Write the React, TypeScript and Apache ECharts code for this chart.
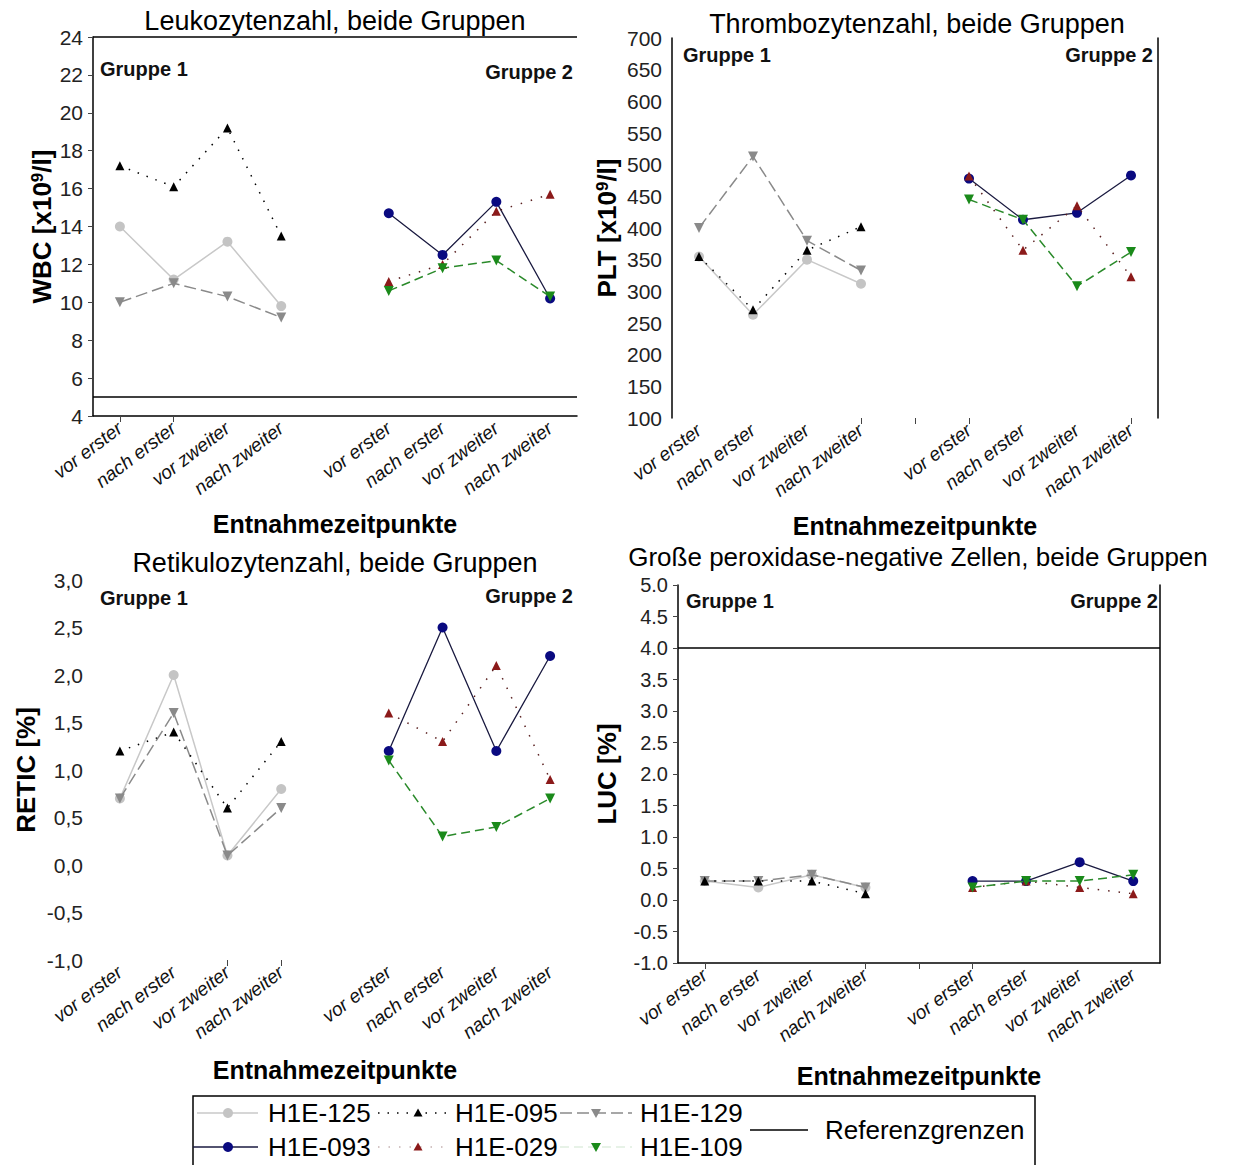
import React, { useEffect, useRef } from "react";
import * as echarts from "echarts";

const FONT = "'Liberation Sans', Arial, sans-serif";

// ---------- categories & labels ----------
const timepoints = ["vor erster", "nach erster", "vor zweiter", "nach zweiter"];
const groupLabels = ["Gruppe 1", "Gruppe 2"];
const xAxisName = "Entnahmezeitpunkte";
const patientsG1 = ["H1E-125", "H1E-095", "H1E-129"];
const patientsG2 = ["H1E-093", "H1E-029", "H1E-109"];
const refLabel = "Referenzgrenzen";

// ---------- tick labels ----------
const wbcTicks = ["4", "6", "8", "10", "12", "14", "16", "18", "20", "22", "24"];
const pltTicks = ["100", "150", "200", "250", "300", "350", "400", "450", "500", "550", "600", "650", "700"];
const reticTicks = ["-1,0", "-0,5", "0,0", "0,5", "1,0", "1,5", "2,0", "2,5", "3,0"];
const lucTicks = ["-1.0", "-0.5", "0.0", "0.5", "1.0", "1.5", "2.0", "2.5", "3.0", "3.5", "4.0", "4.5", "5.0"];

// ---------- WBC [x10^9/l] ----------
const wbc125 = [14.0, 11.2, 13.2, 9.8];
const wbc095 = [17.2, 16.1, 19.2, 13.5];
const wbc129 = [10.0, 11.0, 10.3, 9.2];
const wbc093 = [14.7, 12.5, 15.3, 10.2];
const wbc029 = [11.1, 12.0, 14.8, 15.7];
const wbc109 = [10.6, 11.8, 12.2, 10.3];
const wbcRefs = [5, 24];

// ---------- PLT [x10^9/l] ----------
const plt125 = [355, 263, 350, 312];
const plt095 = [355, 271, 365, 402];
const plt129 = [400, 513, 380, 333];
const plt093 = [478, 413, 424, 483];
const plt029 = [482, 365, 435, 323];
const plt109 = [445, 413, 308, 362];

// ---------- RETIC [%] ----------
const retic125 = [0.7, 2.0, 0.1, 0.8];
const retic095 = [1.2, 1.4, 0.6, 1.3];
const retic129 = [0.7, 1.6, 0.1, 0.6];
const retic093 = [1.2, 2.5, 1.2, 2.2];
const retic029 = [1.6, 1.3, 2.1, 0.9];
const retic109 = [1.1, 0.3, 0.4, 0.7];

// ---------- LUC [%] ----------
const luc125 = [0.3, 0.2, 0.4, 0.2];
const luc095 = [0.3, 0.3, 0.3, 0.1];
const luc129 = [0.3, 0.3, 0.4, 0.2];
const luc093 = [0.3, 0.3, 0.6, 0.3];
const luc029 = [0.2, 0.3, 0.2, 0.1];
const luc109 = [0.2, 0.3, 0.3, 0.4];
const lucRefs = [4];

// ---------- styles ----------
const styles: Record<string, any> = {
  "H1E-125": { color: "#c4c4c4", line: "#c8c8c8", type: "solid", symbol: "circle", rot: 0, size: 10, width: 1.5 },
  "H1E-095": { color: "#000000", line: "#000000", type: [1.5, 8], symbol: "triangle", rot: 0, size: 9, width: 1.5 },
  "H1E-129": { color: "#8a8a8a", line: "#8a8a8a", type: [12, 5], symbol: "triangle", rot: 180, size: 10, width: 1.5 },
  "H1E-093": { color: "#0a0a80", line: "#1a1a40", type: "solid", symbol: "circle", rot: 0, size: 10, width: 1.3 },
  "H1E-029": { color: "#8b1a1a", line: "#5a2020", type: [1.5, 9], symbol: "triangle", rot: 0, size: 9, width: 1.5 },
  "H1E-109": { color: "#1a8a1a", line: "#2a8a2a", type: [9, 5], symbol: "triangle", rot: 180, size: 10, width: 1.5 },
};

const categories = [
  ...timepoints.map((t) => "1|" + t),
  "gap",
  ...timepoints.map((t) => "2|" + t),
];

const panels = [
  {
    title: "Leukozytenzahl, beide Gruppen", titleX: 335, titleY: 21, titleSize: 27,
    grid: [93, 37, 484, 379], min: 4, max: 24, interval: 2, ticks: wbcTicks, tickSize: 21,
    yName: "{b|WBC [x10}{s|9}{b|/l]}", yNameGap: 38, yLine: true, yTick: true,
    xLine: true, xTicks: [0, 1], rightLine: false, refs: wbcRefs, xNameGap: 95,
    g1: [100, 69], g2: [573, 72],
    data: { "H1E-125": wbc125, "H1E-095": wbc095, "H1E-129": wbc129, "H1E-093": wbc093, "H1E-029": wbc029, "H1E-109": wbc109 },
  },
  {
    title: "Thrombozytenzahl, beide Gruppen", titleX: 917, titleY: 24, titleSize: 27,
    grid: [672, 38, 486, 380], min: 100, max: 700, interval: 50, ticks: pltTicks, tickSize: 21,
    yName: "{b|PLT [x10}{s|9}{b|/l]}", yNameGap: 52, yLine: true, yTick: false,
    xLine: false, xTicks: [3, 4, 5, 8], rightLine: true, refs: [], xNameGap: 95,
    g1: [683, 55], g2: [1153, 55],
    data: { "H1E-125": plt125, "H1E-095": plt095, "H1E-129": plt129, "H1E-093": plt093, "H1E-029": plt029, "H1E-109": plt109 },
  },
  {
    title: "Retikulozytenzahl, beide Gruppen", titleX: 335, titleY: 563, titleSize: 27,
    grid: [93, 580, 484, 380], min: -1, max: 3, interval: 0.5, ticks: reticTicks, tickSize: 21,
    yName: "RETIC [%]", yNameGap: 54, yLine: false, yTick: false,
    xLine: false, xTicks: [2, 3], rightLine: false, refs: [], xNameGap: 97,
    g1: [100, 598], g2: [573, 596],
    data: { "H1E-125": retic125, "H1E-095": retic095, "H1E-129": retic129, "H1E-093": retic093, "H1E-029": retic029, "H1E-109": retic109 },
  },
  {
    title: "Große peroxidase-negative Zellen, beide Gruppen", titleX: 918, titleY: 557, titleSize: 26,
    grid: [678, 585, 482, 378], min: -1, max: 5, interval: 0.5, ticks: lucTicks, tickSize: 20,
    yName: "LUC [%]", yNameGap: 58, yLine: true, yTick: true,
    xLine: true, xTicks: [0, 3, 4, 5], rightLine: true, refs: lucRefs, xNameGap: 100,
    g1: [686, 601], g2: [1158, 601],
    data: { "H1E-125": luc125, "H1E-095": luc095, "H1E-129": luc129, "H1E-093": luc093, "H1E-029": luc029, "H1E-109": luc109 },
  },
];

const seriesOrder = ["H1E-125", "H1E-129", "H1E-095", "H1E-093", "H1E-029", "H1E-109"];

function spread(vals: number[], group: number) {
  const nulls = [null, null, null, null, null];
  return group === 0 ? [...vals, ...nulls] : [...nulls, ...vals];
}

function buildOption() {
  const grid: any[] = [];
  const xAxis: any[] = [];
  const yAxis: any[] = [];
  const series: any[] = [];
  const graphic: any[] = [];

  panels.forEach((p, pi) => {
    grid.push({ left: p.grid[0], top: p.grid[1], width: p.grid[2], height: p.grid[3] });
    xAxis.push({
      gridIndex: pi,
      type: "category",
      data: categories,
      boundaryGap: true,
      axisLine: { show: p.xLine, onZero: false, lineStyle: { color: "#000", width: 1.5 } },
      axisTick: {
        show: true,
        alignWithLabel: true,
        interval: (i: number) => p.xTicks.includes(i),
        length: 6,
        lineStyle: { color: "#444", width: 1 },
      },
      axisLabel: {
        interval: 0,
        rotate: 37,
        margin: 10,
        fontSize: 19,
        fontStyle: "italic",
        fontFamily: FONT,
        color: "#111",
        formatter: (v: string) => (v.indexOf("|") >= 0 ? v.split("|")[1] : ""),
      },
      splitLine: { show: false },
      name: xAxisName,
      nameLocation: "middle",
      nameGap: p.xNameGap,
      nameTextStyle: { fontSize: 25, fontWeight: "bold", fontFamily: FONT, color: "#000" },
    });
    const yIdx = yAxis.length;
    yAxis.push({
      gridIndex: pi,
      type: "value",
      min: p.min,
      max: p.max,
      interval: p.interval,
      axisLine: { show: p.yLine, lineStyle: { color: "#000", width: 1.5 } },
      axisTick: { show: p.yTick, length: 5, lineStyle: { color: "#444" } },
      axisLabel: {
        fontSize: p.tickSize,
        fontFamily: FONT,
        color: "#222",
        margin: 10,
        formatter: (v: number) => p.ticks[Math.round((v - p.min) / p.interval)] ?? "",
      },
      splitLine: { show: false },
      name: p.yName,
      nameLocation: "middle",
      nameGap: p.yNameGap,
      nameRotate: 90,
      nameTextStyle: {
        fontSize: 26,
        fontWeight: "bold",
        fontFamily: FONT,
        color: "#000",
        rich: {
          b: { fontSize: 26, fontWeight: "bold", fontFamily: FONT, color: "#000" },
          s: { fontSize: 17, fontWeight: "bold", fontFamily: FONT, color: "#000", verticalAlign: "top" },
        },
      },
    });
    if (p.rightLine) {
      yAxis.push({
        gridIndex: pi,
        type: "value",
        position: "right",
        min: p.min,
        max: p.max,
        interval: p.interval,
        axisLine: { show: true, lineStyle: { color: "#000", width: 1.5 } },
        axisTick: { show: false },
        axisLabel: { show: false },
        splitLine: { show: false },
      });
    }

    seriesOrder.forEach((name, si) => {
      const st = styles[name];
      const group = patientsG1.includes(name) ? 0 : 1;
      const s: any = {
        name,
        type: "line",
        xAxisIndex: pi,
        yAxisIndex: yIdx,
        data: spread((p.data as any)[name], group),
        symbol: st.symbol,
        symbolSize: st.size,
        symbolRotate: st.rot,
        itemStyle: { color: st.color },
        lineStyle: { color: st.line, width: st.width, type: st.type },
        z: 3 + si,
      };
      if (si === 0 && p.refs.length) {
        s.markLine = {
          silent: true,
          symbol: "none",
          label: { show: false },
          lineStyle: { color: "#000", width: 1.5, type: "solid" },
          data: p.refs.map((r) => ({ yAxis: r })),
        };
      }
      series.push(s);
    });

    graphic.push({
      type: "text",
      x: p.titleX,
      y: p.titleY,
      style: { text: p.title, font: `${p.titleSize}px ${FONT}`, fill: "#000", textAlign: "center", textVerticalAlign: "middle" },
    });
    graphic.push({
      type: "text",
      x: p.g1[0],
      y: p.g1[1],
      style: { text: groupLabels[0], font: `bold 20px ${FONT}`, fill: "#111", textAlign: "left", textVerticalAlign: "middle" },
    });
    graphic.push({
      type: "text",
      x: p.g2[0],
      y: p.g2[1],
      style: { text: groupLabels[1], font: `bold 20px ${FONT}`, fill: "#111", textAlign: "right", textVerticalAlign: "middle" },
    });
  });

  // ---------- legend ----------
  graphic.push({
    type: "rect",
    shape: { x: 193, y: 1096, width: 842, height: 90 },
    style: { fill: "none", stroke: "#000", lineWidth: 1.5 },
  });
  const rowY = [1113, 1147];
  const colLine = [[197, 258], [378, 450], [560, 632]];
  const colMark = [228, 418, 596];
  const colText = [268, 455, 640];
  const legendRows = [patientsG1, patientsG2];
  const faint: Record<string, number> = { "H1E-029": 0.35, "H1E-109": 0.15 };
  legendRows.forEach((row, ri) => {
    row.forEach((name, ci) => {
      const st = styles[name];
      const y = rowY[ri];
      const x0 = ri === 1 && ci === 0 ? 193 : colLine[ci][0];
      graphic.push({
        type: "line",
        shape: { x1: x0, y1: y, x2: colLine[ci][1], y2: y },
        style: {
          stroke: st.line,
          lineWidth: st.width,
          lineDash: Array.isArray(st.type) ? st.type : null,
          opacity: faint[name] ?? 1,
        },
      });
      const mx = colMark[ci];
      const r = st.size / 2;
      if (st.symbol === "circle") {
        graphic.push({ type: "circle", shape: { cx: mx, cy: y, r }, style: { fill: st.color } });
      } else if (st.rot === 180) {
        graphic.push({
          type: "polygon",
          shape: { points: [[mx - r, y - r * 0.8], [mx + r, y - r * 0.8], [mx, y + r]] },
          style: { fill: st.color },
        });
      } else {
        graphic.push({
          type: "polygon",
          shape: { points: [[mx, y - r], [mx + r, y + r * 0.8], [mx - r, y + r * 0.8]] },
          style: { fill: st.color },
        });
      }
      graphic.push({
        type: "text",
        x: colText[ci],
        y,
        style: { text: name, font: `26px ${FONT}`, fill: "#000", textAlign: "left", textVerticalAlign: "middle" },
      });
    });
  });
  graphic.push({
    type: "line",
    shape: { x1: 750, y1: 1130, x2: 808, y2: 1130 },
    style: { stroke: "#000", lineWidth: 1.5 },
  });
  graphic.push({
    type: "text",
    x: 825,
    y: 1130,
    style: { text: refLabel, font: `26px ${FONT}`, fill: "#000", textAlign: "left", textVerticalAlign: "middle" },
  });

  return {
    animation: false,
    backgroundColor: "#ffffff",
    grid,
    xAxis,
    yAxis,
    series,
    graphic,
  };
}

export default function App() {
  const ref = useRef<HTMLDivElement>(null);
  useEffect(() => {
    document.body.style.margin = "0";
    const chart = echarts.init(ref.current!, null, { renderer: "svg" });
    chart.setOption(buildOption() as any);
    return () => chart.dispose();
  }, []);
  return <div ref={ref} style={{ width: 1238, height: 1165, position: "absolute", left: 0, top: 0 }} />;
}
